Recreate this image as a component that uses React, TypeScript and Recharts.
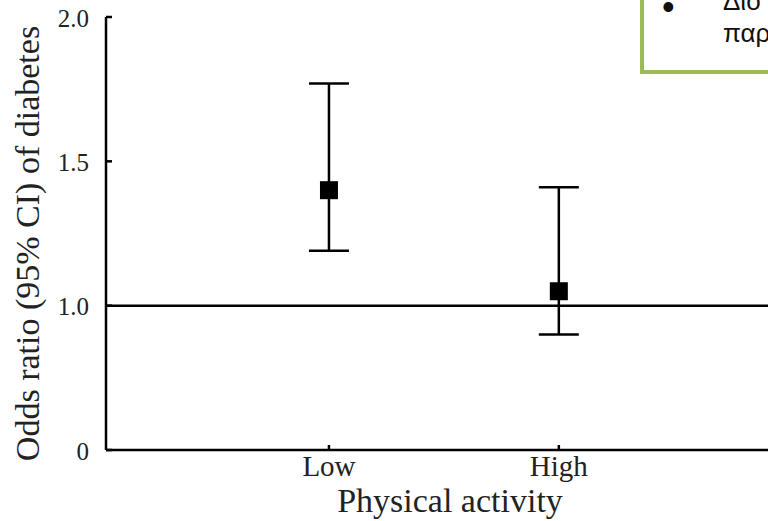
import React from "react";
import {
  ComposedChart,
  Scatter,
  ErrorBar,
  XAxis,
  YAxis,
  ReferenceLine,
  Label,
} from "recharts";

// Physical activity groups and their odds ratios with 95% CI
const categories = ["Low", "High"];
const oddsRatio = [1.4, 1.05];
const ciLower = [1.19, 0.9];
const ciUpper = [1.77, 1.41];

// the y axis is broken: bottom tick sits at 0.5 but is labelled "0"
const yTicks = [0.5, 1.0, 1.5, 2.0];
const yTickLabels = ["0", "1.0", "1.5", "2.0"];

const data = categories.map((c, i) => ({
  x: i + 1,
  name: c,
  or: oddsRatio[i],
  err: [oddsRatio[i] - ciLower[i], ciUpper[i] - oddsRatio[i]],
}));

const serif = "'Liberation Serif', 'Times New Roman', serif";

const YTick = ({ x, y, payload }: any) => {
  const idx = yTicks.indexOf(payload.value);
  return (
    <g>
      <line x1={x} x2={x + 6} y1={y} y2={y} stroke="#000" strokeWidth={2.5} />
      <text
        x={x - 17}
        y={y + 1}
        textAnchor="end"
        dominantBaseline="central"
        fontFamily={serif}
        fontSize={25}
        fill="#222"
      >
        {yTickLabels[idx]}
      </text>
    </g>
  );
};

const XTick = ({ x, y, payload }: any) => (
  <g>
    <line x1={x} x2={x} y1={y} y2={y - 5} stroke="#000" strokeWidth={2.5} />
    <text
      x={x}
      y={y + 26}
      textAnchor="middle"
      fontFamily={serif}
      fontSize={29}
      fill="#222"
    >
      {categories[payload.value - 1]}
    </text>
  </g>
);

const Square = (props: any) => {
  const { cx, cy } = props;
  return <rect x={cx - 9} y={cy - 9} width={18} height={18} fill="#000" />;
};

export default function App() {
  return (
    <div
      style={{
        position: "absolute",
        left: 0,
        top: 0,
        width: 768,
        height: 521,
        overflow: "hidden",
        background: "#fff",
      }}
    >
      <ComposedChart
        width={768}
        height={521}
        data={data}
        margin={{ top: 17, right: 0, bottom: 0, left: 0 }}
      >
        <XAxis
          type="number"
          dataKey="x"
          domain={[0.03, 2.91]}
          ticks={[1, 2]}
          height={71}
          axisLine={{ stroke: "#000", strokeWidth: 2.5 }}
          tickLine={false}
          tickSize={0}
          tickMargin={0}
          tick={<XTick />}
          allowDataOverflow
        >
          <Label
            value="Physical activity"
            position="insideBottom"
            offset={9}
            dx={13}
            style={{ fontFamily: serif, fontSize: 34, fill: "#222" }}
          />
        </XAxis>
        <YAxis
          type="number"
          domain={[0.5, 2]}
          ticks={yTicks}
          width={106}
          axisLine={{ stroke: "#000", strokeWidth: 2.5 }}
          tickLine={false}
          tickSize={0}
          tickMargin={0}
          tick={<YTick />}
          allowDataOverflow
        >
          <Label
            content={({ viewBox }: any) => {
              const cx = viewBox.x + 27;
              const cy = viewBox.y + viewBox.height / 2 + 10;
              return (
                <text
                  x={cx}
                  y={cy}
                  transform={`rotate(-90 ${cx} ${cy})`}
                  textAnchor="middle"
                  dominantBaseline="central"
                  fontFamily={serif}
                  fontSize={34}
                  fill="#222"
                >
                  Odds ratio (95% CI) of diabetes
                </text>
              );
            }}
          />
        </YAxis>
        <ReferenceLine y={1} stroke="#000" strokeWidth={2.5} />
        <Scatter dataKey="or" shape={<Square />} isAnimationActive={false}>
          <ErrorBar
            dataKey="err"
            direction="y"
            width={20}
            stroke="#000"
            strokeWidth={2.5}
            isAnimationActive={false}
          />
        </Scatter>
      </ComposedChart>
      <div
        style={{
          position: "absolute",
          left: 640,
          top: -20,
          width: 220,
          height: 86,
          border: "4px solid #9bbb59",
          background: "#fff",
          fontFamily: "'Liberation Sans', Arial, sans-serif",
          fontSize: 26,
          color: "#111",
        }}
      >
        <span style={{ position: "absolute", left: 18, top: 2, fontSize: 36 }}>•</span>
        <span style={{ position: "absolute", left: 79, top: 1, lineHeight: "32px" }}>
          Διο
          <br />
          παρ
        </span>
      </div>
    </div>
  );
}
